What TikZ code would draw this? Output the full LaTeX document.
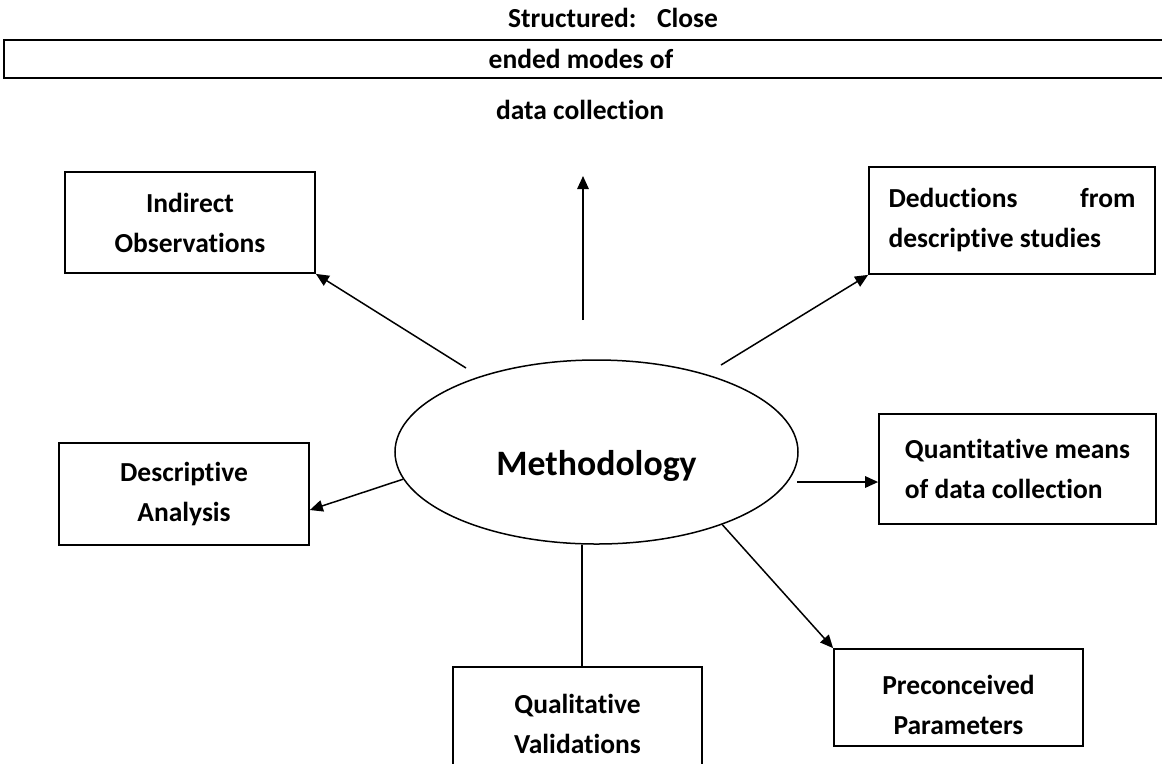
\documentclass[tikz,border=0pt]{standalone}
\usepackage{fontspec}
\setmainfont{Carlito}[Ligatures={NoCommon}]
\usepackage{tikz}
\usetikzlibrary{arrows.meta,calc,shapes.geometric,positioning}

\tikzset{
  box/.style={draw, line width=0.7pt, inner sep=0pt, align=center,
    font=\fontsize{11}{16}\selectfont\bfseries},
  hub/.style={draw, ellipse, line width=0.6pt, inner sep=0pt,
    minimum width=161.2pt, minimum height=73.6pt,
    font=\fontsize{14.3}{17}\selectfont\bfseries},
  toptext/.style={font=\fontsize{11}{16}\selectfont\bfseries, inner sep=0pt},
  arr/.style={-{Triangle[length=5.2pt,width=4.6pt]}, line width=0.6pt},
}

\begin{document}
\begin{tikzpicture}[x=0.4pt,y=-0.4pt]
  \useasboundingbox (0,0) rectangle (1162,763);
  % Top: structured modes
  \draw[line width=0.8pt] (4,40) rectangle (1175,78);
  \node[toptext] (topA) at (613,18) {\makebox[84pt][s]{Structured: Close}};
  \node[toptext] (topB) at (581,59) {ended modes of};
  \node[toptext] (topC) at (580,110) {data collection};
  % Centre
  \node[hub] (meth) at (596.5,452)
    {\raisebox{0pt}[\dimexpr\height+11pt\relax]{Methodology}};
  % Boxes
  \node[box, minimum width=100pt, minimum height=40.4pt] (indir)
    at (190,222.5) {Indirect\\Observations};
  \node[box, minimum width=100pt, minimum height=40.8pt] (descr)
    at (184,494) {Descriptive\\Analysis};
  \node[box, minimum width=114.4pt, minimum height=42.8pt,
    text width=98.8pt, align=justify] (deduc)
    at (1012,220.5) {Deductions from\linebreak descriptive studies};
  \node[box, minimum width=110.8pt, minimum height=44pt, align=left] (quant)
    at (1017.5,469) {Quantitative means\\of data collection};
  \node[box, minimum width=99.6pt, minimum height=38.8pt] (prec)
    at (958.5,697.5) {\raisebox{0pt}[\dimexpr\height+6pt\relax]{Preconceived}\\Parameters};
  \node[box, minimum width=99.6pt, minimum height=45.2pt] (qual)
    at (577.5,723.5) {Qualitative\\Validations};
  % Connectors
  \coordinate (upS) at (583,320);
  \coordinate (upE) at (583,176);
  \coordinate (inS) at (466,368);
  \coordinate (deS) at (721,365);
  \coordinate (quS) at (797,482);
  \coordinate (qlE) at ($(qual.north)+(4.5,0)$);
  \draw[arr] (upS) -- (upE);
  \draw[arr] (inS) -- (indir.south east);
  \draw[arr] (deS) -- (deduc.south west);
  \draw[arr] (meth.188) -- ($(descr.east)+(0,16)$);
  \draw[arr] (quS) -- (quS -| quant.west);
  \draw[arr] (meth.-30) -- (prec.north west);
  \draw[line width=0.6pt] (qlE) -- (qlE |- meth.south);
\end{tikzpicture}
\end{document}
